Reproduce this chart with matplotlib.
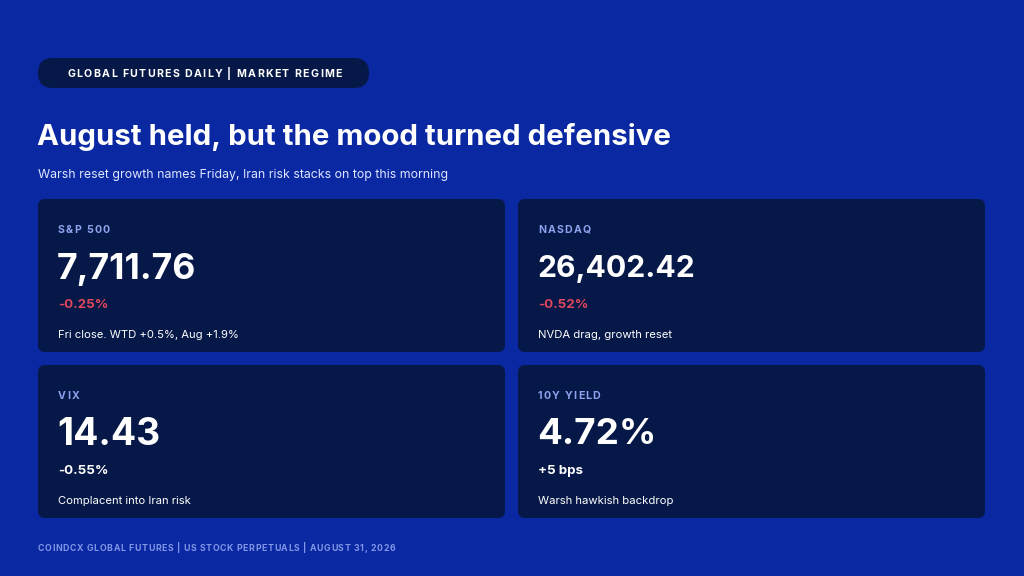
import matplotlib
matplotlib.use('Agg')
import matplotlib.pyplot as plt
from matplotlib.patches import FancyBboxPatch

# card data
names = ['S&P 500', 'NASDAQ', 'VIX', '10Y YIELD']
values = ['7,711.76', '26,402.42', '14.43', '4.72%']
changes = ['-0.25%', '-0.52%', '-0.55%', '+5 bps']
change_colors = ['#e0475a', '#e0475a', '#ffffff', '#ffffff']
notes = ['Fri close. WTD +0.5%, Aug +1.9%', 'NVDA drag, growth reset',
         'Complacent into Iran risk', 'Warsh hawkish backdrop']

badge = 'GLOBAL FUTURES DAILY | MARKET REGIME'
title = 'August held, but the mood turned defensive'
subtitle = 'Warsh reset growth names Friday, Iran risk stacks on top this morning'
footer = 'COINDCX GLOBAL FUTURES | US STOCK PERPETUALS | AUGUST 31, 2026'

BG = '#0a28a2'
CARD = '#061848'
LABEL = '#8ea2ee'

plt.rcParams['font.family'] = ['Inter', 'DejaVu Sans']

fig = plt.figure(figsize=(10.24, 5.76), dpi=100, facecolor=BG)
ax = fig.add_axes([0, 0, 1, 1])
ax.set_xlim(0, 1024)
ax.set_ylim(576, 0)
ax.axis('off')
renderer = fig.canvas.get_renderer()


def text_width(s, **kw):
    t = ax.text(0, 0, s + 'x', **kw)
    w1 = t.get_window_extent(renderer).width
    t.remove()
    t = ax.text(0, 0, 'x', **kw)
    w0 = t.get_window_extent(renderer).width
    t.remove()
    return w1 - w0


def tracked(x, y, s, track, fontsize, **kw):
    """draw caps text with extra letter spacing (px), y is the vertical centre"""
    base = y + fontsize * 100 / 72 * 0.727 / 2
    for i, ch in enumerate(s):
        if ch != ' ':
            ax.text(x + text_width(s[:i], fontsize=fontsize, **kw) + i * track, base, ch,
                    va='baseline', fontsize=fontsize, **kw)


# header badge
ax.add_patch(FancyBboxPatch((38, 58), 331, 30, boxstyle='round,pad=0,rounding_size=15',
                            fc=CARD, ec='none'))
tracked(67, 73.5, badge, 1.35, 7.6, color='white', fontweight='bold')

ax.text(37, 137, title, color='white', fontsize=21.2, fontweight='bold', va='center')
ax.text(38, 175, subtitle, color='#dfe6ff', fontsize=8.9, va='center')

# cards
xs = [38, 518, 38, 518]
ys = [199, 199, 365, 365]
value_sizes = [25.6, 21.7, 26.9, 26.5]
w, h = 467, 153
for i in range(len(names)):
    x0, y0 = xs[i], ys[i]
    ax.add_patch(FancyBboxPatch((x0, y0), w, h, boxstyle='round,pad=0,rounding_size=7',
                                fc=CARD, ec='none'))
    tracked(x0 + 20, y0 + 30, names[i], 1.2, 7.6, color=LABEL, fontweight='bold')
    ax.text(x0 + 19, y0 + 70, values[i], color='white', fontsize=value_sizes[i],
            fontweight='bold', va='center')
    ax.text(x0 + 20, y0 + 106, changes[i], color=change_colors[i], fontsize=9.6,
            fontweight='bold', va='center')
    ax.text(x0 + 20, y0 + 136, notes[i], color='white', fontsize=8.1, va='center')

tracked(38, 547.5, footer, 0.62, 6.3, color='#8196e6', fontweight='bold')

fig.savefig('out.png', dpi=100, facecolor=BG)
